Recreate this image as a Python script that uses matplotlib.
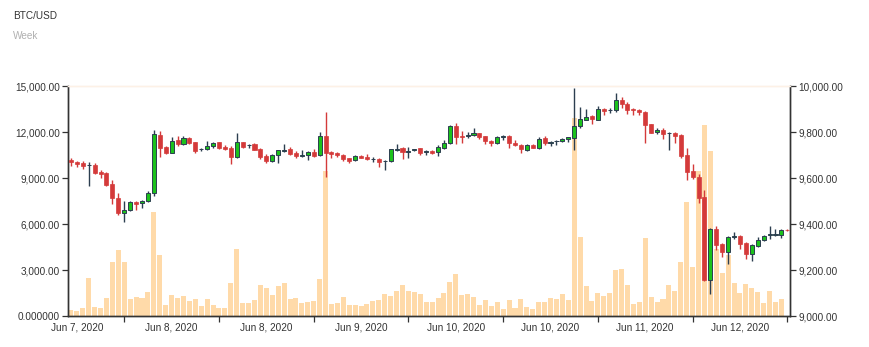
import numpy as np
import matplotlib.pyplot as plt

plt.rcParams['font.family'] = ['Liberation Sans', 'DejaVu Sans']

# hourly BTC/USD candles (price axis on the right)
opens = [9678, 9670, 9665, 9655, 9658, 9626, 9622, 9572, 9513, 9449,
         9459, 9496, 9490, 9500, 9533, 9787, 9735, 9710, 9764, 9749,
         9774, 9756, 9725, 9725, 9738, 9755, 9733, 9729, 9691, 9755,
         9742, 9748, 9726, 9694, 9675, 9700, 9719, 9725, 9709, 9697,
         9699, 9713, 9699, 9784, 9713, 9709, 9701, 9685, 9677, 9697,
         9693, 9681, 9684, 9674, 9672, 9723, 9729, 9714, 9722, 9729,
         9714, 9717, 9712, 9732, 9751, 9825, 9781, 9783, 9785, 9796,
         9781, 9762, 9752, 9780, 9783, 9752, 9743, 9723, 9745, 9730,
         9772, 9754, 9759, 9759, 9770, 9775, 9825, 9852, 9868, 9854,
         9900, 9894, 9896, 9938, 9922, 9898, 9897, 9888, 9833, 9798,
         9809, 9794, 9797, 9785, 9699, 9630, 9606, 9516, 9156, 9377,
         9312, 9278, 9345, 9349, 9319, 9269, 9306, 9329, 9351, 9354,
         9354, 9375]
highs = [9686, 9672, 9674, 9668, 9664, 9635, 9626, 9591, 9533, 9500,
         9499, 9499, 9504, 9542, 9809, 9806, 9738, 9778, 9781, 9781,
         9780, 9758, 9729, 9759, 9756, 9758, 9743, 9741, 9794, 9758,
         9748, 9752, 9729, 9704, 9704, 9723, 9746, 9735, 9716, 9722,
         9717, 9726, 9801, 9885, 9719, 9714, 9704, 9688, 9699, 9700,
         9704, 9690, 9688, 9678, 9726, 9746, 9736, 9735, 9727, 9730,
         9723, 9720, 9742, 9765, 9829, 9838, 9803, 9801, 9816, 9797,
         9784, 9764, 9781, 9785, 9785, 9765, 9746, 9746, 9748, 9777,
         9783, 9762, 9764, 9775, 9780, 9993, 9907, 9899, 9874, 9914,
         9904, 9904, 9971, 9952, 9930, 9906, 9901, 9891, 9835, 9816,
         9817, 9801, 9800, 9790, 9730, 9661, 9617, 9548, 9383, 9391,
         9316, 9349, 9367, 9352, 9323, 9314, 9345, 9354, 9391, 9378,
         9380, 9377]
lows = [9654, 9649, 9638, 9565, 9619, 9599, 9565, 9487, 9439, 9410,
        9458, 9462, 9471, 9496, 9522, 9691, 9704, 9709, 9738, 9743,
        9746, 9710, 9716, 9722, 9730, 9725, 9723, 9659, 9687, 9732,
        9729, 9722, 9683, 9664, 9670, 9667, 9713, 9701, 9688, 9693,
        9678, 9693, 9696, 9606, 9687, 9691, 9672, 9667, 9672, 9685,
        9678, 9670, 9649, 9633, 9670, 9719, 9684, 9688, 9716, 9699,
        9701, 9704, 9696, 9726, 9748, 9748, 9754, 9772, 9783, 9771,
        9749, 9741, 9749, 9767, 9732, 9741, 9709, 9719, 9729, 9725,
        9745, 9738, 9742, 9758, 9756, 9720, 9819, 9851, 9833, 9851,
        9872, 9883, 9885, 9903, 9877, 9875, 9872, 9752, 9794, 9790,
        9771, 9722, 9752, 9688, 9591, 9597, 9490, 9151, 9094, 9287,
        9258, 9225, 9336, 9293, 9249, 9239, 9299, 9326, 9333, 9349,
        9339, 9371]
closes = [9668, 9662, 9654, 9658, 9622, 9617, 9570, 9512, 9446, 9459,
          9496, 9487, 9501, 9536, 9790, 9732, 9710, 9761, 9749, 9772,
          9751, 9719, 9727, 9738, 9754, 9729, 9727, 9693, 9755, 9736,
          9745, 9723, 9690, 9675, 9701, 9720, 9722, 9704, 9694, 9700,
          9713, 9697, 9783, 9710, 9706, 9701, 9683, 9672, 9696, 9688,
          9681, 9684, 9671, 9675, 9725, 9726, 9712, 9717, 9725, 9710,
          9716, 9710, 9735, 9754, 9825, 9780, 9778, 9785, 9797, 9780,
          9759, 9752, 9778, 9783, 9751, 9742, 9725, 9742, 9732, 9771,
          9752, 9756, 9762, 9770, 9777, 9826, 9855, 9864, 9855, 9899,
          9890, 9897, 9938, 9920, 9897, 9894, 9887, 9832, 9797, 9807,
          9791, 9797, 9781, 9694, 9627, 9604, 9514, 9155, 9378, 9309,
          9277, 9343, 9349, 9314, 9268, 9307, 9330, 9349, 9355, 9355,
          9375, 9372]
# volume (left axis)
volumes = [391, 348, 522, 2500, 587, 522, 1196, 3522, 4304, 3522,
           1109, 1239, 1152, 1565, 6804, 3978, 717, 1370, 1196, 1304,
           978, 1109, 674, 1109, 717, 543, 543, 2152, 4370, 848,
           848, 1043, 2043, 1826, 1348, 1957, 2174, 1109, 1174, 870,
           891, 978, 2413, 9478, 804, 870, 1239, 717, 717, 652,
           783, 978, 1043, 1435, 1304, 1609, 2022, 1630, 1543, 1413,
           913, 913, 1174, 1500, 2217, 2717, 1370, 1413, 1239, 717,
           1043, 630, 913, 435, 1043, 522, 1109, 565, 457, 913,
           913, 1152, 1109, 1413, 1043, 12891, 5152, 1935, 1000, 1478,
           1304, 1478, 2978, 3043, 2022, 804, 891, 5087, 1261, 913,
           1087, 2000, 1609, 3500, 7413, 3196, 9457, 12457, 10761, 4348,
           2826, 3978, 2152, 1478, 2065, 1826, 1565, 848, 1609, 913,
           1130, 0]

x_labels = ["Jun 7, 2020", "Jun 8, 2020", "Jun 8, 2020", "Jun 9, 2020",
            "Jun 10, 2020", "Jun 10, 2020", "Jun 11, 2020", "Jun 12, 2020"]
vol_ticks = [0, 3000, 6000, 9000, 12000, 15000]
vol_tick_labels = ["0.000000", "3,000.00", "6,000.00", "9,000.00",
                   "12,000.00", "15,000.00"]
price_ticks = [9000, 9200, 9400, 9600, 9800, 10000]
price_tick_labels = ["9,000.00", "9,200.00", "9,400.00", "9,600.00",
                     "9,800.00", "10,000.00"]

o = np.array(opens, dtype=float)
h = np.array(highs, dtype=float)
l = np.array(lows, dtype=float)
c = np.array(closes, dtype=float)
x = np.arange(len(o))
up = c >= o

RED = '#d43a3a'
GREEN = '#1cc21c'
DARK = '#2c3e50'
TXT = '#333333'

fig = plt.figure(figsize=(8.69, 3.47), dpi=100)
ax = fig.add_axes([68 / 869, 1 - 316 / 347, (790 - 68) / 869, (316 - 86) / 347])
ax2 = ax.twinx()

ax.bar(x, volumes, width=0.85, color='#ffdaa9', linewidth=0)
ax.set_ylim(0, 15000)
ax.set_yticks(vol_ticks)
ax.set_yticklabels(vol_tick_labels)

# candles: wicks first, bodies on top
ax2.vlines(x[up], l[up], h[up], color=DARK, linewidth=1, zorder=2)
ax2.vlines(x[~up], l[~up], h[~up], color=RED, linewidth=1, zorder=2)
body = np.maximum(np.abs(c - o), 1.5)
ax2.bar(x[up], body[up], bottom=np.minimum(o, c)[up], width=0.7,
        color=GREEN, edgecolor=DARK, linewidth=0.7, zorder=3)
ax2.bar(x[~up], body[~up], bottom=np.minimum(o, c)[~up], width=0.68,
        color=RED, edgecolor=RED, linewidth=0.5, zorder=3)
ax2.set_ylim(9000, 10000)
ax2.set_yticks(price_ticks)
ax2.set_yticklabels(price_tick_labels)

ax.set_xlim(-0.5, 121.45)
ax.set_xticks(np.arange(9, 122, 16))
ax.set_xticklabels([])
ax.set_xticks(np.arange(1, 122, 16), minor=True)
ax.set_xticklabels(x_labels, minor=True)
ax.tick_params(axis='x', which='minor', length=0, pad=5)
ax.tick_params(axis='x', which='major', length=4, width=0.9, color=TXT)

for a in (ax, ax2):
    a.tick_params(axis='y', length=4, width=0.9, color=TXT, pad=2)
    a.tick_params(which='both', labelsize=7.2, labelcolor=TXT)
    for side in ('left', 'right', 'bottom'):
        a.spines[side].set_color(TXT)
        a.spines[side].set_linewidth(1)
    a.spines['top'].set_color('#fdf1e6')
    a.spines['top'].set_linewidth(1)

fig.text(13 / 869, 1 - 16 / 347, "BTC/USD", fontsize=7.2, color=TXT, va='center')
fig.text(13 / 869, 1 - 36 / 347, "Week", fontsize=7.2, color='#b0b0b0', va='center')

fig.savefig('out.png', dpi=100)
